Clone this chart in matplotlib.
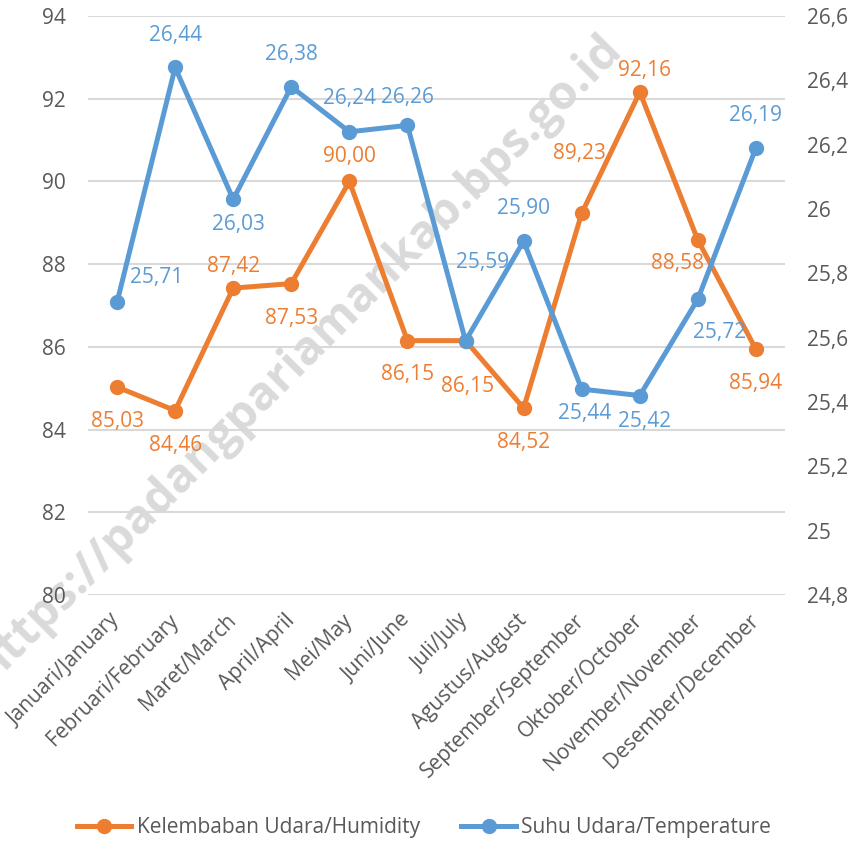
import numpy as np
import matplotlib.pyplot as plt
from matplotlib.ticker import FuncFormatter

plt.rcParams['font.family'] = ['Open Sans', 'DejaVu Sans']

bulan = ['Januari/January', 'Februari/February', 'Maret/March', 'April/April',
         'Mei/May', 'Juni/June', 'Juli/July', 'Agustus/August',
         'September/September', 'Oktober/October', 'November/November',
         'Desember/December']
kelembaban = [85.03, 84.46, 87.42, 87.53, 90.00, 86.15, 86.15, 84.52, 89.23, 92.16, 88.58, 85.94]
suhu = [25.71, 26.44, 26.03, 26.38, 26.24, 26.26, 25.59, 25.90, 25.44, 25.42, 25.72, 26.19]

# posisi label data (pixel, relatif ke titik)
off_kel = [(0, -35), (0, -35), (0, 22), (0, -35), (0, 25), (0, -34),
           (2, -46), (0, -34), (-2, 60), (5, 22), (-20, -23), (0, -34)]
off_suhu = [(40, 25), (0, 32), (5, -25), (0, 32), (0, 33), (0, 28),
            (17, 78), (0, 33), (3, -24), (5, -26), (22, -33), (0, 32)]

oranye = '#ED7D31'
biru = '#5B9BD5'
fs = 15

fig = plt.figure(figsize=(8.59, 8.41), dpi=100)
ax = fig.add_axes([88/859, 1-595/841, (785-88)/859, (595-16)/841])
ax2 = ax.twinx()
ax.patch.set_alpha(0)

x = np.arange(len(bulan))
ax.plot(x, kelembaban, color=oranye, lw=3.6, marker='o', ms=10, label='Kelembaban Udara/Humidity', zorder=3)
ax2.plot(x, suhu, color=biru, lw=3.6, marker='o', ms=10, label='Suhu Udara/Temperature', zorder=3)

for i in range(len(x)):
    ax.annotate(f'{kelembaban[i]:.2f}'.replace('.', ','), (x[i], kelembaban[i]),
                xytext=off_kel[i], textcoords='offset pixels', ha='center', va='center',
                color=oranye, fontsize=fs)
    ax2.annotate(f'{suhu[i]:.2f}'.replace('.', ','), (x[i], suhu[i]),
                 xytext=off_suhu[i], textcoords='offset pixels', ha='center', va='center',
                 color=biru, fontsize=fs)

ax.set_xlim(-0.5, len(bulan) - 0.5)
ax.set_ylim(80, 94)
ax.set_yticks(np.arange(80, 95, 2))
ax2.set_ylim(24.8, 26.6)
ax2.set_yticks(np.arange(24.8, 26.61, 0.2))
ax2.yaxis.set_major_formatter(FuncFormatter(lambda v, p: f'{round(v, 1):g}'.replace('.', ',')))

ax.grid(axis='y', color='#D9D9D9', lw=1.5)
ax.set_axisbelow(True)
for a in (ax, ax2):
    for s in a.spines.values():
        s.set_visible(False)
    a.tick_params(length=0, labelsize=fs, labelcolor='#595959')
ax.tick_params(axis='y', pad=16)
ax2.tick_params(axis='y', pad=16)

ax.set_xticks(x)
ax.set_xticklabels(bulan, rotation=45, ha='right', va='center', rotation_mode='anchor')
ax.tick_params(axis='x', pad=16)

# watermark
fig.text(298/859, 1-358/841, 'https://padangpariamankab.bps.go.id', rotation=45,
         ha='center', va='center', fontsize=34, fontweight='bold', color='#DADADA', zorder=-1)

h1, l1 = ax.get_legend_handles_labels()
h2, l2 = ax2.get_legend_handles_labels()
fig.legend(h1 + h2, l1 + l2, loc='center', bbox_to_anchor=(424/859, 1-828/841), ncol=2,
           frameon=False, fontsize=fs, handlelength=2.6, handletextpad=0.25,
           columnspacing=2.0, labelcolor='#595959')

fig.savefig('out.png', dpi=100)
